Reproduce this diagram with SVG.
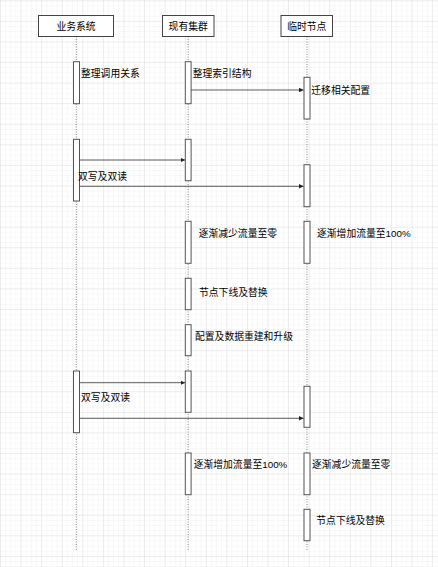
<svg xmlns="http://www.w3.org/2000/svg" width="438" height="567" viewBox="0 0 438 567">
<defs>
<pattern id="minor" width="5.145" height="5.145" patternUnits="userSpaceOnUse" x="0" y="0.3">
<path d="M0 0H5.145M0 0V5.145" fill="none" stroke="#f1f1f1" stroke-width="1"/>
</pattern>
<pattern id="major" width="20.58" height="20.58" patternUnits="userSpaceOnUse" x="0" y="0.3">
<path d="M0 0H20.58M0 0V20.58" fill="none" stroke="#e2e2e2" stroke-width="1"/>
</pattern>
<marker id="arr" viewBox="0 0 10 10" refX="10" refY="5" markerWidth="4.5" markerHeight="4.5" markerUnits="userSpaceOnUse" orient="auto">
<path d="M0 0L10 5L0 10Z" fill="#222"/>
</marker>
<style>
.hdr{fill:#fff;stroke:#444;stroke-width:1}
.bar{fill:#fff;stroke:#555;stroke-width:1}
.life{stroke:#888;stroke-width:1;stroke-dasharray:1 1.5;fill:none}
.msg{stroke:#333;stroke-width:0.8;fill:none;marker-end:url(#arr)}
text{font-family:"Liberation Sans","Noto Sans CJK SC",sans-serif;font-size:9.8px;fill:#000}
.c{text-anchor:middle}
</style>
</defs>
<rect width="438" height="567" fill="#fff"/>
<rect width="438" height="567" fill="url(#minor)"/>
<rect width="438" height="567" fill="url(#major)"/>

<g id="lifelines">
<line class="life" x1="76.3" y1="36.5" x2="76.3" y2="551"/>
<line class="life" x1="188.2" y1="36.5" x2="188.2" y2="551"/>
<line class="life" x1="307" y1="36.5" x2="307" y2="551"/>
</g>

<g id="node-biz">
<rect class="hdr" x="38.5" y="15.5" width="75" height="21"/>
<text class="c" x="76" y="29.5">业务系统</text>
</g>
<g id="node-cluster">
<rect class="hdr" x="162.5" y="15.5" width="51.5" height="21"/>
<text class="c" x="188.2" y="29.5">现有集群</text>
</g>
<g id="node-temp">
<rect class="hdr" x="281" y="15.5" width="51.5" height="21"/>
<text class="c" x="306.8" y="29.5">临时节点</text>
</g>

<g id="bars">
<rect class="bar" x="73.5" y="61.7" width="6" height="42"/>
<rect class="bar" x="185.3" y="61.7" width="5.8" height="42"/>
<rect class="bar" x="304" y="77.3" width="6" height="41.7"/>

<rect class="bar" x="73.5" y="139.3" width="6" height="61.7"/>
<rect class="bar" x="185.3" y="139.3" width="5.8" height="41.4"/>
<rect class="bar" x="304" y="164.7" width="6" height="42"/>

<rect class="bar" x="185.3" y="221.3" width="5.8" height="42"/>
<rect class="bar" x="304" y="221.3" width="6" height="42"/>

<rect class="bar" x="185.3" y="278.3" width="5.8" height="31.4"/>
<rect class="bar" x="185.3" y="324.7" width="5.8" height="31"/>

<rect class="bar" x="73.5" y="371" width="6" height="61.7"/>
<rect class="bar" x="185.3" y="371" width="5.8" height="41.3"/>
<rect class="bar" x="304" y="386.3" width="6" height="41"/>

<rect class="bar" x="185.3" y="453" width="5.8" height="41.7"/>
<rect class="bar" x="304" y="453" width="6" height="41.7"/>

<rect class="bar" x="304" y="509.3" width="6" height="31.4"/>
</g>

<g id="connectors">
<line class="msg" x1="191.1" y1="90" x2="303.5" y2="90"/>
<line class="msg" x1="79.5" y1="160" x2="185" y2="160"/>
<line class="msg" x1="79.5" y1="186.3" x2="303.5" y2="186.3"/>
<line class="msg" x1="79.5" y1="382.7" x2="185" y2="382.7"/>
<line class="msg" x1="79.5" y1="418.3" x2="303.5" y2="418.3"/>
</g>

<g id="labels">
<text x="81" y="76.5">整理调用关系</text>
<text x="192.7" y="76.5">整理索引结构</text>
<text x="311.3" y="94.2">迁移相关配置</text>
<text x="78" y="179.8">双写及双读</text>
<text x="198.7" y="237.2">逐渐减少流量至零</text>
<text x="317" y="237.2">逐渐增加流量至100%</text>
<text x="199" y="295.5">节点下线及替换</text>
<text x="195" y="339.5">配置及数据重建和升级</text>
<text x="81" y="400.5">双写及双读</text>
<text x="193.7" y="467.8">逐渐增加流量至100%</text>
<text x="312" y="467.8">逐渐减少流量至零</text>
<text x="316.3" y="524.2">节点下线及替换</text>
</g>
</svg>
